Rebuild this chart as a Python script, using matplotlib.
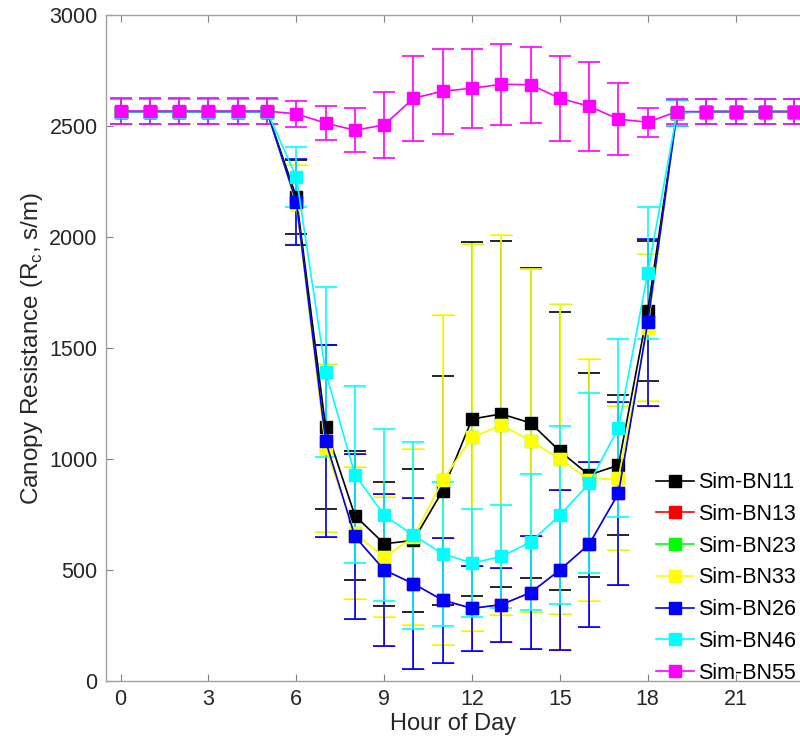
import numpy as np
import matplotlib
matplotlib.use("Agg")
import matplotlib.pyplot as plt
from matplotlib.lines import Line2D

plt.rcParams["font.family"] = ["Liberation Sans", "DejaVu Sans"]

# hour of day
hours = list(range(24))

# series values (s/m) and symmetric error half-widths
bn11 = [2565, 2565, 2565, 2565, 2565, 2565, 2180, 1143, 745, 618, 633, 858,
        1180, 1203, 1162, 1035, 928, 972, 1667, 2560, 2565, 2565, 2565, 2565]
bn11_err = [58, 58, 58, 58, 58, 58, 165, 370, 290, 280, 323, 516,
            796, 781, 700, 626, 461, 315, 315, 58, 58, 58, 58, 58]

bn33 = [2565, 2565, 2565, 2565, 2565, 2565, 2148, 1050, 665, 557, 648, 905,
        1097, 1153, 1082, 1000, 905, 914, 1592, 2560, 2565, 2565, 2565, 2565]
bn33_err = [58, 58, 58, 58, 58, 58, 178, 380, 297, 270, 398, 745,
            870, 858, 773, 698, 546, 323, 332, 58, 58, 58, 58, 58]

bn26 = [2565, 2565, 2565, 2565, 2565, 2565, 2157, 1081, 651, 500, 438, 364,
        327, 344, 398, 500, 616, 845, 1615, 2560, 2565, 2565, 2565, 2565]
bn26_err = [58, 58, 58, 58, 58, 58, 193, 432, 372, 342, 385, 282,
            190, 167, 255, 360, 371, 411, 376, 58, 58, 58, 58, 58]

bn46 = [2565, 2565, 2565, 2565, 2565, 2565, 2270, 1391, 930, 746, 656, 573,
        531, 561, 626, 747, 890, 1140, 1838, 2560, 2565, 2565, 2565, 2565]
bn46_err = [58, 58, 58, 58, 58, 58, 135, 383, 400, 388, 422, 325,
            245, 232, 306, 402, 405, 400, 299, 58, 58, 58, 58, 58]

bn55 = [2567, 2567, 2567, 2567, 2567, 2567, 2555, 2513, 2481, 2505, 2625, 2657,
        2670, 2688, 2686, 2625, 2589, 2531, 2517, 2565, 2565, 2565, 2565, 2565]
bn55_err = [58, 58, 58, 58, 58, 58, 58, 77, 98, 150, 192, 191,
            178, 183, 172, 192, 201, 162, 66, 58, 58, 58, 58, 58]

# BN13 and BN23 are hidden under later series in the original
bn13, bn13_err = bn26, bn26_err
bn23, bn23_err = bn33, bn33_err

labels = ["Sim-BN11", "Sim-BN13", "Sim-BN23", "Sim-BN33",
          "Sim-BN26", "Sim-BN46", "Sim-BN55"]
colors = ["#000000", "#ff0000", "#00ff00", "#ffff00",
          "#0000ff", "#00ffff", "#ff00ff"]
series = [(bn11, bn11_err), (bn13, bn13_err), (bn23, bn23_err),
          (bn33, bn33_err), (bn26, bn26_err), (bn46, bn46_err),
          (bn55, bn55_err)]
# hidden series drawn thinner so they don't tint the ones on top
widths = [1.2, 0.7, 0.7, 1.2, 1.2, 1.2, 1.2]

AX_COLOR = "#262626"

fig = plt.figure(figsize=(8.0, 7.47), dpi=100)
ax = fig.add_axes([0.1325, 0.0884, 0.8675, 0.8915])

handles = []
for (vals, err), col, lab, lw in zip(series, colors, labels, widths):
    ax.errorbar(hours, vals, yerr=err, color=col, ecolor=col,
                marker="s", markersize=8, markerfacecolor=col,
                markeredgecolor=col, linewidth=lw, elinewidth=lw,
                capsize=7.8, capthick=lw)
    handles.append(Line2D([], [], color=col, linewidth=1.2, marker="s",
                          markersize=8, markerfacecolor=col,
                          markeredgecolor=col, label=lab))

ax.set_xlim(-0.5, 23.2)
ax.set_ylim(0, 3000)
ax.set_xticks(range(0, 22, 3))
ax.set_yticks(range(0, 3001, 500))

for side in ["left", "bottom", "top"]:
    ax.spines[side].set_color("#a0a0a0")
    ax.spines[side].set_linewidth(1.0)
ax.spines["right"].set_visible(False)
ax.tick_params(direction="in", length=5, color="#808080", labelcolor=AX_COLOR,
               labelsize=15.5, top=True, pad=6)

ax.set_xlabel("Hour of Day", fontsize=17, color=AX_COLOR, labelpad=2)
ax.set_ylabel("Canopy Resistance (R$_\\mathregular{c}$, s/m)", fontsize=17.5,
              color=AX_COLOR, labelpad=3)

leg = fig.legend(handles=handles, loc="upper left",
                 bbox_to_anchor=(0.82, 0.368), frameon=False, fontsize=15.5,
                 handlelength=1.75, handletextpad=0.2, labelspacing=0.5,
                 borderpad=0, borderaxespad=0)
for txt in leg.get_texts():
    txt.set_color("#000000")

fig.savefig("out.png", dpi=100)
